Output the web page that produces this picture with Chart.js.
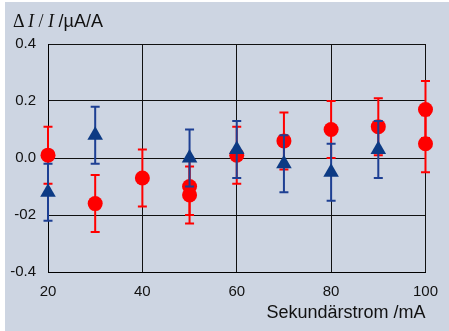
<!DOCTYPE html>
<html>
<head>
<meta charset="utf-8">
<script src="https://cdn.jsdelivr.net/npm/chart.js@4.4.0/dist/chart.umd.min.js"></script>
<style>
  body { margin: 0; background: #fff; }
  #wrap { position: absolute; left: 5px; top: 2px; width: 444px; height: 329px; background: #cdd5e2; }
  #ytitle { position: absolute; left: 8px; top: 9px; font-size: 18px; line-height: 20px; color: #111; white-space: pre; }
  #ytitle .s { font-family: "Liberation Serif", "Times New Roman", serif; }
  #ytitle .a { font-family: "Liberation Sans", Arial, sans-serif; }
  canvas { position: absolute; left: 0; top: 0; }
</style>
</head>
<body>
<div id="wrap">
  <canvas id="chart1" width="444" height="329"></canvas>
  <div id="ytitle"><span class="s">Δ <i>I</i> / <i>I</i> </span><span class="a">/µA/A</span></div>
</div>
<script>
// Messwerte
const redX = [20, 30, 40, 50, 50, 60, 70, 80, 90, 100, 100];
const redY = [0.01, -0.16, -0.07, -0.10, -0.13, 0.01, 0.06, 0.10, 0.11, 0.17, 0.05];
const redErr = [0.1, 0.1, 0.1, 0.1, 0.1, 0.1, 0.1, 0.1, 0.1, 0.1, 0.1];

const blueX = [20, 30, 50, 60, 70, 80, 90];
const blueY = [-0.12, 0.08, 0.0, 0.03, -0.02, -0.05, 0.03];
const blueErr = [0.1, 0.1, 0.1, 0.1, 0.1, 0.1, 0.1];

const yTickLabels = ['-0.4', '-02', '0.0', '0.2', '0.4'];
const xTitle = 'Sekundärstrom /mA';

const toPoints = (xs, ys) => xs.map((x, i) => ({ x: x, y: ys[i] }));

// Fehlerbalken vor den Punkten zeichnen
const errorBars = {
    id: 'errorBars',
    beforeDatasetDraw(chart, args) {
        const ds = chart.data.datasets[args.index];
        if (!ds.errors) return;
        const xs = chart.scales.x, ys = chart.scales.y;
        const ctx = chart.ctx;
        ctx.save();
        ctx.strokeStyle = ds.errorColor;
        ctx.lineWidth = 2;
        ds.data.forEach((p, i) => {
            const px = xs.getPixelForValue(p.x);
            const top = ys.getPixelForValue(p.y + ds.errors[i]);
            const bot = ys.getPixelForValue(p.y - ds.errors[i]);
            ctx.beginPath();
            ctx.moveTo(px, top); ctx.lineTo(px, bot);
            ctx.moveTo(px - 4.5, top); ctx.lineTo(px + 4.5, top);
            ctx.moveTo(px - 4.5, bot); ctx.lineTo(px + 4.5, bot);
            ctx.stroke();
        });
        ctx.restore();
    }
};

const tickFont = { family: '"Liberation Sans", Arial, sans-serif', size: 15 };

new Chart(document.getElementById('chart1').getContext('2d'), {
    type: 'scatter',
    data: {
        datasets: [{
            data: toPoints(blueX, blueY),
            errors: blueErr,
            errorColor: '#1d3f93',
            pointStyle: 'triangle',
            pointRadius: 9,
            pointBorderWidth: 0,
            backgroundColor: '#0c3a84',
            borderColor: '#0c3a84',
            clip: false
        }, {
            data: toPoints(redX, redY),
            errors: redErr,
            errorColor: '#ff0000',
            pointStyle: 'circle',
            pointRadius: 7.5,
            pointBorderWidth: 0,
            backgroundColor: '#ff0000',
            borderColor: '#ff0000',
            clip: false
        }]
    },
    options: {
        responsive: false,
        animation: false,
        events: [],
        layout: { padding: { top: 42, right: 23, left: 0, bottom: 0 } },
        plugins: { legend: { display: false }, tooltip: { enabled: false } },
        scales: {
            x: {
                type: 'linear',
                min: 20,
                max: 100,
                afterFit: (s) => { s.height = 59; },
                ticks: { stepSize: 20, font: tickFont, color: '#111', padding: 11 },
                grid: { color: '#111', drawTicks: false },
                border: { color: '#000' },
                title: {
                    display: true,
                    text: xTitle,
                    align: 'end',
                    color: '#111',
                    font: { family: '"Liberation Sans", Arial, sans-serif', size: 18 },
                    padding: { top: 0, bottom: 7 }
                }
            },
            y: {
                min: -0.4,
                max: 0.4,
                afterFit: (s) => { s.width = 43; },
                ticks: {
                    stepSize: 0.2,
                    font: tickFont,
                    color: '#111',
                    padding: 12,
                    callback: (v) => yTickLabels[Math.round((v + 0.4) / 0.2)]
                },
                grid: { color: '#111', drawTicks: false },
                border: { color: '#000' }
            }
        }
    },
    plugins: [errorBars]
});
</script>
</body>
</html>
